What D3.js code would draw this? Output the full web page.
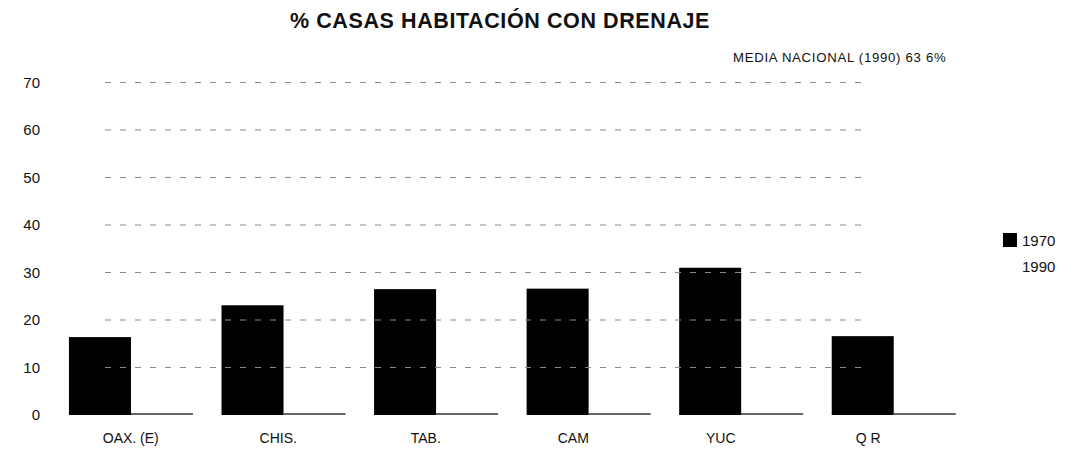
<!DOCTYPE html>
<html>
<head>
<meta charset="utf-8">
<script src="https://cdn.jsdelivr.net/npm/d3@7"></script>
<style>
  html, body { margin: 0; padding: 0; background: #fff; }
  svg { display: block; font-family: "Liberation Sans", Arial, sans-serif; }
</style>
</head>
<body>
<svg id="chart" width="1080" height="456"></svg>
<script>
const categories = ["OAX. (E)", "CHIS.", "TAB.", "CAM", "YUC", "Q R"];
const series = ["1970", "1990"];
const values1970 = [16.4, 23.1, 26.5, 26.6, 31.0, 16.6];
const values1990 = [27, 40, 63, 47, 47, 60];
const yTicks = [0, 10, 20, 30, 40, 50, 60, 70];
const title = "% CASAS HABITACIÓN CON DRENAJE";
const note = "MEDIA NACIONAL (1990) 63 6%";

const svg = d3.select("#chart");

const x = d3.scaleBand().domain(categories).range([54.7, 970]).paddingInner(0.187).paddingOuter(0.0935);
const xs = d3.scaleBand().domain(series).range([0, x.bandwidth()]);
const xLabel = d3.scaleBand().domain(categories).range([57, 942]);
const y = d3.scaleLinear().domain([0, 70]).range([415, 82.5]);

const groups = svg.append("g").selectAll("g").data(categories).join("g")
  .attr("transform", d => `translate(${x(d)},0)`);

// 1990 bars (faded to white in the source)
groups.append("rect")
  .attr("x", xs("1990"))
  .attr("width", xs.bandwidth())
  .attr("y", (d, i) => y(values1990[i]))
  .attr("height", (d, i) => y(0) - y(values1990[i]))
  .attr("fill", "#fff");

// faint dashed gridlines
svg.append("g").selectAll("line").data(yTicks.filter(d => d > 0)).join("line")
  .attr("x1", 105).attr("x2", 870)
  .attr("y1", d => y(d)).attr("y2", d => y(d))
  .attr("stroke", "#8a8a8a").attr("stroke-width", 1)
  .attr("stroke-dasharray", "6,9");

// 1970 bars
groups.append("rect")
  .attr("x", xs("1970"))
  .attr("width", xs.bandwidth())
  .attr("y", (d, i) => y(values1970[i]))
  .attr("height", (d, i) => y(0) - y(values1970[i]))
  .attr("fill", "#000");

groups.append("line")
  .attr("x1", xs("1990")).attr("x2", xs("1990") + xs.bandwidth())
  .attr("y1", y(0) - 1).attr("y2", y(0) - 1)
  .attr("stroke", "#333").attr("stroke-width", 1.5);

// y tick labels
const yAxis = d3.axisLeft(y).tickValues(yTicks).tickSize(0).tickPadding(0);
const gy = svg.append("g").attr("transform", "translate(40,0)").call(yAxis);
gy.select(".domain").remove();
gy.selectAll("text").attr("font-size", 15).attr("fill", "#111")
  .attr("font-family", "'Liberation Sans', Arial, sans-serif");

// x labels
const xAxis = d3.axisBottom(xLabel).tickSize(0).tickPadding(0);
const gx = svg.append("g").attr("transform", "translate(0,433)").call(xAxis);
gx.select(".domain").remove();
gx.selectAll("text").attr("font-size", 14).attr("fill", "#111")
  .attr("font-family", "'Liberation Sans', Arial, sans-serif");

// title
svg.append("text").attr("x", 500).attr("y", 28).attr("text-anchor", "middle")
  .attr("font-size", 21.5).attr("font-weight", "bold").attr("letter-spacing", 0.6)
  .attr("fill", "#111").text(title);

svg.append("text").attr("x", 733).attr("y", 62)
  .attr("font-size", 13.2).attr("letter-spacing", 0.7).attr("fill", "#111").text(note);

// legend
const legend = svg.append("g").selectAll("g").data(series).join("g")
  .attr("transform", (d, i) => `translate(1003,${233 + i * 26})`);
legend.append("rect").attr("width", 14).attr("height", 14)
  .attr("fill", d => d === "1970" ? "#000" : "#fff");
legend.append("text").attr("x", 19).attr("y", 13)
  .attr("font-size", 15).attr("fill", "#111").text(d => d);
</script>
</body>
</html>
